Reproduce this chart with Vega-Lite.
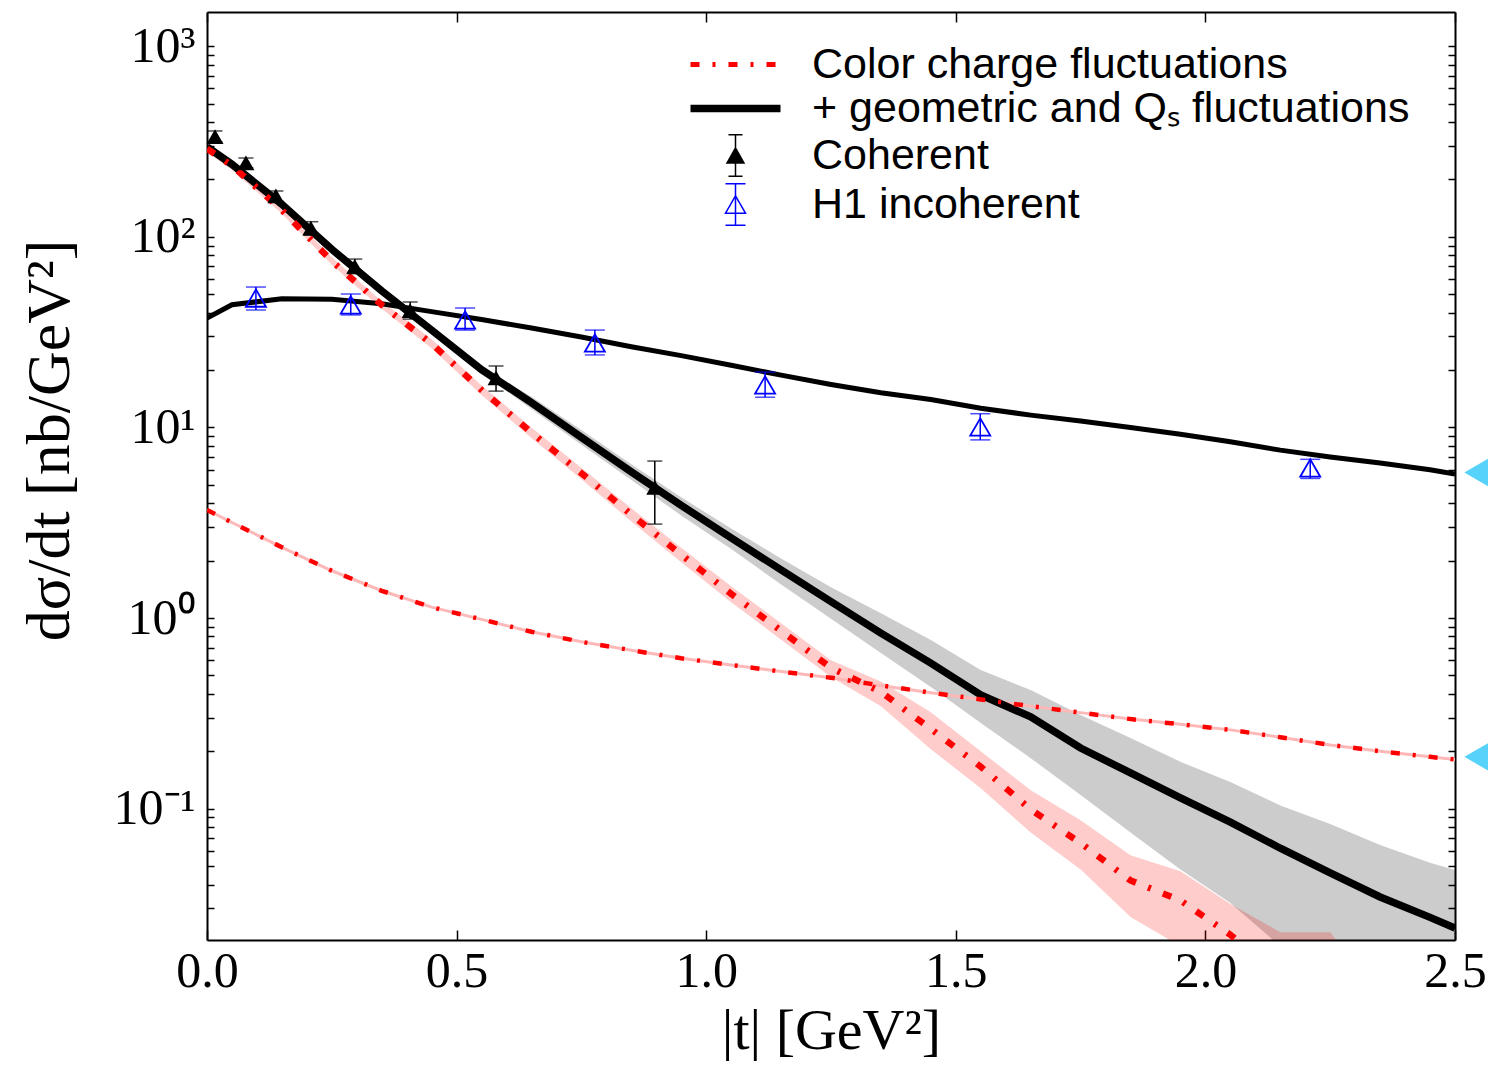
{
  "$schema": "https://vega.github.io/schema/vega-lite/v6.json",
  "width": 1248,
  "height": 928,
  "autosize": "none",
  "padding": {"left": 207, "top": 12, "right": 33, "bottom": 140},
  "background": "white",
  "config": {"view": {"stroke": null}},
  "datasets": {
    "curves": [
      {"c":"geo_coh","t":0,"y":296},{"c":"geo_coh","t":0.05,"y":240},{"c":"geo_coh","t":0.15,"y":148},{"c":"geo_coh","t":0.25,"y":86},{"c":"geo_coh","t":0.35,"y":52},{"c":"geo_coh","t":0.45,"y":32.4},{"c":"geo_coh","t":0.55,"y":20.1},{"c":"geo_coh","t":0.65,"y":13.5},{"c":"geo_coh","t":0.75,"y":8.87},{"c":"geo_coh","t":0.85,"y":5.84},{"c":"geo_coh","t":0.95,"y":3.9},{"c":"geo_coh","t":1.05,"y":2.63},{"c":"geo_coh","t":1.15,"y":1.79},{"c":"geo_coh","t":1.25,"y":1.22},{"c":"geo_coh","t":1.35,"y":0.834},{"c":"geo_coh","t":1.45,"y":0.58},{"c":"geo_coh","t":1.55,"y":0.395},{"c":"geo_coh","t":1.65,"y":0.303},{"c":"geo_coh","t":1.75,"y":0.208},{"c":"geo_coh","t":1.85,"y":0.154},{"c":"geo_coh","t":1.95,"y":0.114},{"c":"geo_coh","t":2.05,"y":0.085},{"c":"geo_coh","t":2.15,"y":0.062},{"c":"geo_coh","t":2.25,"y":0.046},{"c":"geo_coh","t":2.35,"y":0.0344},{"c":"geo_coh","t":2.45,"y":0.0269},{"c":"geo_coh","t":2.5,"y":0.0236},
      {"c":"geo_inc","t":0,"y":37.5},{"c":"geo_inc","t":0.05,"y":44},{"c":"geo_inc","t":0.15,"y":47.3},{"c":"geo_inc","t":0.25,"y":47},{"c":"geo_inc","t":0.35,"y":44.5},{"c":"geo_inc","t":0.45,"y":40.5},{"c":"geo_inc","t":0.55,"y":36.8},{"c":"geo_inc","t":0.65,"y":33.2},{"c":"geo_inc","t":0.75,"y":29.8},{"c":"geo_inc","t":0.85,"y":26.5},{"c":"geo_inc","t":0.95,"y":23.8},{"c":"geo_inc","t":1.05,"y":21.2},{"c":"geo_inc","t":1.15,"y":18.8},{"c":"geo_inc","t":1.25,"y":16.8},{"c":"geo_inc","t":1.35,"y":15.2},{"c":"geo_inc","t":1.45,"y":14.0},{"c":"geo_inc","t":1.55,"y":12.6},{"c":"geo_inc","t":1.65,"y":11.6},{"c":"geo_inc","t":1.75,"y":10.8},{"c":"geo_inc","t":1.85,"y":10.0},{"c":"geo_inc","t":1.95,"y":9.2},{"c":"geo_inc","t":2.05,"y":8.4},{"c":"geo_inc","t":2.15,"y":7.6},{"c":"geo_inc","t":2.25,"y":7.0},{"c":"geo_inc","t":2.35,"y":6.5},{"c":"geo_inc","t":2.45,"y":6.0},{"c":"geo_inc","t":2.5,"y":5.7},
      {"c":"cc_coh","t":0,"y":290},{"c":"cc_coh","t":0.05,"y":236},{"c":"cc_coh","t":0.15,"y":138},{"c":"cc_coh","t":0.25,"y":74.6},{"c":"cc_coh","t":0.35,"y":43.9},{"c":"cc_coh","t":0.45,"y":27.5},{"c":"cc_coh","t":0.55,"y":15.7},{"c":"cc_coh","t":0.65,"y":9.4},{"c":"cc_coh","t":0.75,"y":5.75},{"c":"cc_coh","t":0.85,"y":3.49},{"c":"cc_coh","t":0.95,"y":2.15},{"c":"cc_coh","t":1.05,"y":1.34},{"c":"cc_coh","t":1.15,"y":0.857},{"c":"cc_coh","t":1.25,"y":0.548},{"c":"cc_coh","t":1.35,"y":0.41},{"c":"cc_coh","t":1.45,"y":0.262},{"c":"cc_coh","t":1.55,"y":0.166},{"c":"cc_coh","t":1.65,"y":0.099},{"c":"cc_coh","t":1.75,"y":0.066},{"c":"cc_coh","t":1.85,"y":0.042},{"c":"cc_coh","t":1.95,"y":0.033},{"c":"cc_coh","t":2.05,"y":0.0218},{"c":"cc_coh","t":2.15,"y":0.013},{"c":"cc_coh","t":2.25,"y":0.009},
      {"c":"cc_inc","t":0,"y":3.69},{"c":"cc_inc","t":0.05,"y":3.17},{"c":"cc_inc","t":0.15,"y":2.35},{"c":"cc_inc","t":0.25,"y":1.77},{"c":"cc_inc","t":0.35,"y":1.39},{"c":"cc_inc","t":0.45,"y":1.14},{"c":"cc_inc","t":0.55,"y":0.984},{"c":"cc_inc","t":0.65,"y":0.847},{"c":"cc_inc","t":0.75,"y":0.75},{"c":"cc_inc","t":0.85,"y":0.678},{"c":"cc_inc","t":0.95,"y":0.615},{"c":"cc_inc","t":1.05,"y":0.567},{"c":"cc_inc","t":1.15,"y":0.524},{"c":"cc_inc","t":1.25,"y":0.486},{"c":"cc_inc","t":1.35,"y":0.443},{"c":"cc_inc","t":1.45,"y":0.406},{"c":"cc_inc","t":1.55,"y":0.374},{"c":"cc_inc","t":1.65,"y":0.345},{"c":"cc_inc","t":1.75,"y":0.319},{"c":"cc_inc","t":1.85,"y":0.295},{"c":"cc_inc","t":1.95,"y":0.277},{"c":"cc_inc","t":2.05,"y":0.259},{"c":"cc_inc","t":2.15,"y":0.237},{"c":"cc_inc","t":2.25,"y":0.216},{"c":"cc_inc","t":2.35,"y":0.2},{"c":"cc_inc","t":2.45,"y":0.187},{"c":"cc_inc","t":2.5,"y":0.181}
    ],
    "bands": [
      {"b":"g","t":0,"lo":284,"hi":308},{"b":"g","t":0.05,"lo":230,"hi":250},{"b":"g","t":0.15,"lo":142,"hi":154},{"b":"g","t":0.25,"lo":82.6,"hi":89.4},{"b":"g","t":0.35,"lo":49.9,"hi":54.1},{"b":"g","t":0.45,"lo":31.1,"hi":33.7},{"b":"g","t":0.55,"lo":19.3,"hi":20.9},{"b":"g","t":0.65,"lo":12.5,"hi":14.5},{"b":"g","t":0.75,"lo":8.1,"hi":9.7},{"b":"g","t":0.85,"lo":5.3,"hi":6.4},{"b":"g","t":0.95,"lo":3.45,"hi":4.3},{"b":"g","t":1.05,"lo":2.3,"hi":2.95},{"b":"g","t":1.15,"lo":1.5,"hi":2.05},{"b":"g","t":1.25,"lo":0.99,"hi":1.45},{"b":"g","t":1.35,"lo":0.655,"hi":1.06},{"b":"g","t":1.45,"lo":0.435,"hi":0.767},{"b":"g","t":1.55,"lo":0.281,"hi":0.533},{"b":"g","t":1.65,"lo":0.184,"hi":0.419},{"b":"g","t":1.75,"lo":0.118,"hi":0.31},{"b":"g","t":1.85,"lo":0.075,"hi":0.235},{"b":"g","t":1.95,"lo":0.048,"hi":0.176},{"b":"g","t":2.05,"lo":0.032,"hi":0.138},{"b":"g","t":2.15,"lo":0.019,"hi":0.104},{"b":"g","t":2.25,"lo":0.012,"hi":0.083},{"b":"g","t":2.35,"lo":0.008,"hi":0.0644},{"b":"g","t":2.45,"lo":0.005,"hi":0.052},{"b":"g","t":2.5,"lo":0.004,"hi":0.0476},
      {"b":"p","t":0,"lo":277,"hi":303},{"b":"p","t":0.05,"lo":225,"hi":247},{"b":"p","t":0.15,"lo":132,"hi":144},{"b":"p","t":0.25,"lo":71.3,"hi":78},{"b":"p","t":0.35,"lo":41.9,"hi":45.9},{"b":"p","t":0.45,"lo":26.0,"hi":29.0},{"b":"p","t":0.55,"lo":14.8,"hi":16.6},{"b":"p","t":0.65,"lo":8.8,"hi":10.0},{"b":"p","t":0.75,"lo":5.35,"hi":6.15},{"b":"p","t":0.85,"lo":3.21,"hi":3.77},{"b":"p","t":0.95,"lo":1.96,"hi":2.34},{"b":"p","t":1.05,"lo":1.21,"hi":1.47},{"b":"p","t":1.15,"lo":0.77,"hi":0.94},{"b":"p","t":1.25,"lo":0.49,"hi":0.6},{"b":"p","t":1.35,"lo":0.345,"hi":0.465},{"b":"p","t":1.45,"lo":0.205,"hi":0.32},{"b":"p","t":1.55,"lo":0.128,"hi":0.2},{"b":"p","t":1.65,"lo":0.075,"hi":0.125},{"b":"p","t":1.75,"lo":0.048,"hi":0.087},{"b":"p","t":1.85,"lo":0.027,"hi":0.057},{"b":"p","t":1.95,"lo":0.019,"hi":0.047},{"b":"p","t":2.05,"lo":0.012,"hi":0.0316},{"b":"p","t":2.15,"lo":0.007,"hi":0.0225},{"b":"p","t":2.25,"lo":0.004,"hi":0.0225},{"b":"p","t":2.35,"lo":0.002,"hi":0.01}
    ],
    "coherent": [
      {"t":0.016,"y":335,"lo":315,"hi":359},{"t":0.078,"y":244,"lo":230,"hi":259},{"t":0.138,"y":164,"lo":154,"hi":174},{"t":0.208,"y":111,"lo":102,"hi":120},{"t":0.296,"y":70,"lo":64,"hi":76.4},{"t":0.407,"y":41,"lo":37,"hi":45.5},{"t":0.579,"y":18.2,"lo":15.5,"hi":21.0},{"t":0.897,"y":4.85,"lo":3.11,"hi":6.66}
    ],
    "h1": [
      {"t":0.098,"y":47.7,"lo":41.3,"hi":54.5},{"t":0.288,"y":43.9,"lo":38.9,"hi":50.1},{"t":0.517,"y":36.6,"lo":32.4,"hi":42.3},{"t":0.777,"y":27.7,"lo":24.0,"hi":32.4},{"t":1.118,"y":16.7,"lo":14.4,"hi":19.5},{"t":1.549,"y":10.05,"lo":8.6,"hi":11.8},{"t":2.21,"y":6.12,"lo":5.4,"hi":6.8}
    ],
    "markers": [{"t":2.55,"y":5.8},{"t":2.55,"y":0.187}]
  },
  "resolve": {"axis": {"x": "independent", "y": "independent"}},
  "layer": [
    {
      "data": {"name": "bands"},
      "transform": [{"filter": "datum.b == 'g'"}],
      "mark": {"type": "area", "color": "black", "opacity": 0.2, "clip": true},
      "encoding": {
        "x": {"field": "t", "type": "quantitative",
          "scale": {"domain": [0, 2.5], "nice": false, "zero": false},
          "axis": {"orient": "bottom", "values": [0, 0.5, 1, 1.5, 2, 2.5], "format": ".1f", "grid": false,
            "domain": true, "domainColor": "black", "domainWidth": 2,
            "ticks": true, "tickSize": -10, "tickColor": "black", "tickWidth": 1.5,
            "labelFont": "Liberation Serif", "labelFontSize": 50, "labelColor": "black", "labelPadding": 16,
            "labelOverlap": false, "labelBound": false, "labelFlush": false,
            "title": "|t| [GeV²]", "titleFont": "Liberation Serif", "titleFontSize": 58, "titleFontWeight": "normal", "titleColor": "black", "titlePadding": 6}},
        "y": {"field": "lo", "type": "quantitative",
          "scale": {"type": "log", "domain": [0.02046, 1511], "nice": false},
          "axis": {"orient": "left", "values": [0.03,0.04,0.05,0.06,0.07,0.08,0.09,0.1,0.2,0.3,0.4,0.5,0.6,0.7,0.8,0.9,1,2,3,4,5,6,7,8,9,10,20,30,40,50,60,70,80,90,100,200,300,400,500,600,700,800,900,1000],
            "grid": false, "domain": true, "domainColor": "black", "domainWidth": 2,
            "ticks": true, "tickSize": -7, "tickColor": "black", "tickWidth": 1.5,
            "labelExpr": "datum.value == 1000 ? '10³' : datum.value == 100 ? '10²' : datum.value == 10 ? '10¹' : datum.value == 1 ? '10⁰' : datum.value == 0.1 ? '10⁻¹' : ''",
            "labelFont": "Liberation Serif", "labelFontSize": 50, "labelColor": "black", "labelPadding": 19,
            "labelOverlap": false, "labelBound": false, "labelFlush": false,
            "title": "dσ/dt [nb/GeV²]", "titleFont": "Liberation Serif", "titleFontSize": 62, "titleFontWeight": "normal", "titleColor": "black", "titlePadding": 32, "titleY": 428,
            "encode": {"ticks": {"update": {"x2": {"signal": "indexof([0.1, 1, 10, 100, 1000], datum.value) >= 0 ? 12 : 7"}}}}}},
        "y2": {"field": "hi"}
      }
    },
    {
      "data": {"name": "bands"},
      "transform": [{"filter": "datum.b == 'p'"}],
      "mark": {"type": "area", "color": "red", "opacity": 0.2, "clip": true},
      "encoding": {
        "x": {"field": "t", "type": "quantitative",
          "axis": {"orient": "top", "values": [0, 0.5, 1, 1.5, 2, 2.5], "grid": false, "labels": false, "title": null,
            "domain": true, "domainColor": "black", "domainWidth": 2,
            "ticks": true, "tickSize": -10, "tickColor": "black", "tickWidth": 1.5}},
        "y": {"field": "lo", "type": "quantitative",
          "axis": {"orient": "right", "values": [0.03,0.04,0.05,0.06,0.07,0.08,0.09,0.1,0.2,0.3,0.4,0.5,0.6,0.7,0.8,0.9,1,2,3,4,5,6,7,8,9,10,20,30,40,50,60,70,80,90,100,200,300,400,500,600,700,800,900,1000],
            "grid": false, "labels": false, "title": null, "domain": true, "domainColor": "black", "domainWidth": 2,
            "ticks": true, "tickSize": -7, "tickColor": "black", "tickWidth": 1.5,
            "encode": {"ticks": {"update": {"x2": {"signal": "indexof([0.1, 1, 10, 100, 1000], datum.value) >= 0 ? -12 : -7"}}}}}},
        "y2": {"field": "hi"}
      }
    },
    {
      "data": {"name": "curves"},
      "transform": [{"filter": "datum.c == 'cc_inc'"}],
      "mark": {"type": "line", "color": "#ffb8b8", "strokeWidth": 3, "clip": true},
      "encoding": {
        "x": {"field": "t", "type": "quantitative", "axis": null},
        "y": {"field": "y", "type": "quantitative", "axis": null}
      }
    },
    {
      "data": {"name": "curves"},
      "transform": [{"filter": "datum.c == 'geo_inc'"}],
      "mark": {"type": "line", "color": "black", "strokeWidth": 5, "clip": true},
      "encoding": {
        "x": {"field": "t", "type": "quantitative", "axis": null},
        "y": {"field": "y", "type": "quantitative", "axis": null}
      }
    },
    {
      "data": {"name": "curves"},
      "transform": [{"filter": "datum.c == 'geo_coh'"}],
      "mark": {"type": "line", "strokeWidth": 7.5, "clip": true},
      "encoding": {
        "x": {"field": "t", "type": "quantitative", "axis": null},
        "y": {"field": "y", "type": "quantitative", "axis": null},
        "color": {"field": "c", "type": "nominal",
          "scale": {"domain": ["cc_coh", "geo_coh", "coh", "h1"], "range": ["red", "black", "black", "blue"]},
          "legend": {
            "orient": "none", "legendX": 507, "legendY": 31, "title": null, "padding": 0, "rowPadding": 0,
            "symbolSize": 8100, "labelFont": "Liberation Sans", "labelFontSize": 43, "labelColor": "black", "labelOffset": 55, "labelLimit": 800,
            "labelExpr": "datum.value == 'cc_coh' ? 'Color charge fluctuations' : datum.value == 'geo_coh' ? '+ geometric and Qₛ fluctuations' : datum.value == 'coh' ? 'Coherent' : 'H1 incoherent'",
            "encode": {"symbols": {"update": {
              "shape": {"signal": "datum.value == 'coh' ? 'M0,-0.46L0,0.46M-0.156,-0.46L0.156,-0.46M-0.156,0.46L0.156,0.46M0,-0.167L0.189,0.167L-0.189,0.167Z' : datum.value == 'h1' ? 'M0,-0.46L0,0.46M-0.222,-0.46L0.222,-0.46M-0.222,0.46L0.222,0.46M0,-0.193L0.222,0.193L-0.222,0.193Z' : 'M-1,0L1,0'"},
              "stroke": {"signal": "datum.value == 'cc_coh' ? 'red' : datum.value == 'h1' ? 'blue' : 'black'"},
              "fill": {"signal": "datum.value == 'coh' ? 'black' : 'transparent'"},
              "strokeWidth": {"signal": "datum.value == 'cc_coh' ? 5 : datum.value == 'geo_coh' ? 7.5 : 1.5"},
              "strokeDash": {"signal": "datum.value == 'cc_coh' ? [9, 13, 3, 13] : [1, 0]"},
              "opacity": {"value": 1}
            }}}
          }}
      }
    },
    {
      "data": {"name": "curves"},
      "transform": [{"filter": "datum.c == 'cc_coh'"}],
      "mark": {"type": "line", "color": "red", "strokeWidth": 6.5, "strokeDash": [9, 13, 3, 13], "clip": true},
      "encoding": {
        "x": {"field": "t", "type": "quantitative", "axis": null},
        "y": {"field": "y", "type": "quantitative", "axis": null}
      }
    },
    {
      "data": {"name": "curves"},
      "transform": [{"filter": "datum.c == 'cc_inc'"}],
      "mark": {"type": "line", "color": "red", "strokeWidth": 4.5, "strokeDash": [9, 13, 3, 13], "clip": true},
      "encoding": {
        "x": {"field": "t", "type": "quantitative", "axis": null},
        "y": {"field": "y", "type": "quantitative", "axis": null}
      }
    },
    {
      "data": {"name": "coherent"},
      "mark": {"type": "errorbar", "color": "black", "thickness": 1.5, "size": 15, "ticks": true},
      "encoding": {
        "x": {"field": "t", "type": "quantitative", "axis": null},
        "y": {"field": "lo", "type": "quantitative", "axis": null},
        "y2": {"field": "hi"}
      }
    },
    {
      "data": {"name": "coherent"},
      "mark": {"type": "point", "shape": "triangle-up", "filled": true, "color": "black", "size": 290, "opacity": 1},
      "encoding": {
        "x": {"field": "t", "type": "quantitative", "axis": null},
        "y": {"field": "y", "type": "quantitative", "axis": null}
      }
    },
    {
      "data": {"name": "h1"},
      "mark": {"type": "errorbar", "color": "blue", "thickness": 1.5, "size": 20, "ticks": true},
      "encoding": {
        "x": {"field": "t", "type": "quantitative", "axis": null},
        "y": {"field": "lo", "type": "quantitative", "axis": null},
        "y2": {"field": "hi"}
      }
    },
    {
      "data": {"name": "h1"},
      "mark": {"type": "point", "shape": "triangle-up", "filled": false, "stroke": "blue", "strokeWidth": 1.8, "size": 400, "opacity": 1},
      "encoding": {
        "x": {"field": "t", "type": "quantitative", "axis": null},
        "y": {"field": "y", "type": "quantitative", "axis": null}
      }
    },
    {
      "data": {"name": "markers"},
      "mark": {"type": "point", "shape": "triangle-left", "filled": true, "color": "#56d2fb", "size": 1296, "opacity": 1, "clip": false},
      "encoding": {
        "x": {"field": "t", "type": "quantitative", "axis": null},
        "y": {"field": "y", "type": "quantitative", "axis": null}
      }
    }
  ]
}
